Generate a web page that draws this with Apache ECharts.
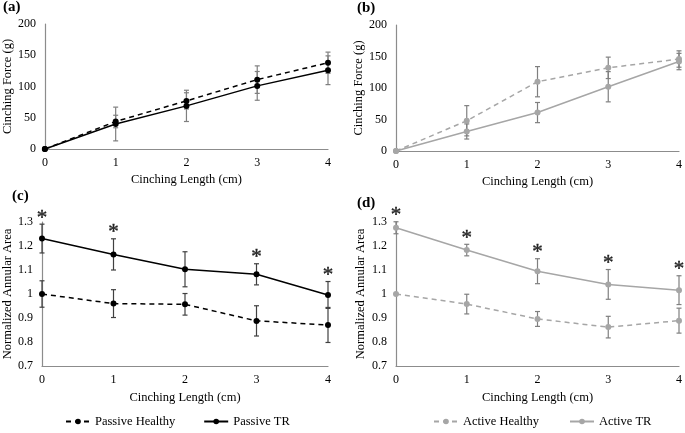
<!DOCTYPE html>
<html>
<head>
<meta charset="utf-8">
<script src="https://cdn.jsdelivr.net/npm/echarts@6/dist/echarts.min.js"></script>
<style>html,body{margin:0;padding:0;background:#fff}#c{width:685px;height:433px}</style>
</head>
<body>
<div id="c"></div>
<script>
const xValues = [0, 1, 2, 3, 4];
const forceTicks = [0, 50, 100, 150, 200];
const areaTicks = [0.7, 0.8, 0.9, 1, 1.1, 1.2, 1.3];

const passiveForceHealthy = [0, 44, 77, 111, 138];
const passiveForceHealthyErr = [0, 10, 13, 22, 17];
const passiveForceTR = [0, 40, 69, 101, 126];
const passiveForceTRErr = [0, 27, 25, 23, 23];

const activeForceHealthy = [0, 48, 110, 132, 146];
const activeForceHealthyErr = [0, 24, 24, 17, 13];
const activeForceTR = [0, 31, 61, 102, 142];
const activeForceTRErr = [0, 12, 16, 24, 13];

const passiveAreaHealthy = [1.0, 0.96, 0.957, 0.888, 0.871];
const passiveAreaHealthyErr = [0.055, 0.058, 0.045, 0.063, 0.073];
const passiveAreaTR = [1.231, 1.165, 1.103, 1.082, 0.996];
const passiveAreaTRErr = [0.06, 0.065, 0.073, 0.044, 0.056];

const activeAreaHealthy = [1.0, 0.958, 0.896, 0.862, 0.889];
const activeAreaHealthyErr = [0, 0.041, 0.031, 0.045, 0.052];
const activeAreaTR = [1.276, 1.183, 1.095, 1.04, 1.016];
const activeAreaTRErr = [0.025, 0.024, 0.052, 0.062, 0.06];

const passiveSignificant = [1, 1, 0, 1, 1];
const activeSignificant = [1, 1, 1, 1, 1];

const FONT = 'Liberation Serif';
const BLACK = '#000000';
const LIGHT = '#a6a6a6';
const AXIS = '#8c8c8c';

const chart = echarts.init(document.getElementById('c'));

function pairs(ys) { return xValues.map((x, i) => [x, ys[i]]); }

function lineSeries(name, idx, ys, color, dashed) {
  return {
    name: name, type: 'line', xAxisIndex: idx, yAxisIndex: idx,
    data: pairs(ys), symbol: 'circle', symbolSize: 6, z: 5,
    itemStyle: { color: color },
    lineStyle: { color: color, width: 1.5, type: dashed ? [5, 4] : 'solid' },
    emphasis: { disabled: true }, animation: false
  };
}

function errSeries(idx, ys, errs, color) {
  return {
    type: 'custom', xAxisIndex: idx, yAxisIndex: idx, silent: true, z: 3, animation: false,
    clip: false,
    data: xValues.map((x, i) => [x, ys[i] - errs[i], ys[i] + errs[i]]),
    renderItem: function (params, api) {
      const x = api.value(0);
      const lo = api.coord([x, api.value(1)]);
      const hi = api.coord([x, api.value(2)]);
      if (Math.abs(lo[1] - hi[1]) < 0.5) return null;
      const w = 2.5;
      const st = { stroke: color, lineWidth: 1.2 };
      return { type: 'group', children: [
        { type: 'line', shape: { x1: lo[0], y1: lo[1], x2: hi[0], y2: hi[1] }, style: st },
        { type: 'line', shape: { x1: lo[0] - w, y1: lo[1], x2: lo[0] + w, y2: lo[1] }, style: st },
        { type: 'line', shape: { x1: hi[0] - w, y1: hi[1], x2: hi[0] + w, y2: hi[1] }, style: st }
      ] };
    }
  };
}

function starSeries(idx, ys, errs, sig) {
  const d = [];
  xValues.forEach((x, i) => { if (sig[i]) d.push([x, ys[i] + errs[i]]); });
  return {
    type: 'custom', xAxisIndex: idx, yAxisIndex: idx, silent: true, z: 6, animation: false,
    clip: false, data: d,
    renderItem: function (params, api) {
      const p = api.coord([api.value(0), api.value(1)]);
      return { type: 'text', style: { text: '*', x: p[0], y: p[1] - 6, align: 'center', verticalAlign: 'middle',
        fontSize: 21, fontFamily: FONT, fill: '#222', stroke: '#222', lineWidth: 0.4 } };
    }
  };
}

function xAxis(idx, gap) {
  return {
    type: 'value', gridIndex: idx, min: 0, max: 4, interval: 1,
    name: 'Cinching Length (cm)', nameLocation: 'middle', nameGap: gap,
    nameTextStyle: { fontFamily: FONT, fontSize: 12.5, color: '#000' },
    axisLine: { show: true, lineStyle: { color: AXIS, width: 1.2 } },
    axisTick: { show: false }, splitLine: { show: false },
    axisLabel: { fontFamily: FONT, fontSize: 12, color: '#000', margin: 8 }
  };
}

function yAxis(idx, name, min, max, interval, gap) {
  return {
    type: 'value', gridIndex: idx, min: min, max: max, interval: interval,
    name: name, nameLocation: 'middle', nameGap: gap, nameRotate: 90,
    nameTextStyle: { fontFamily: FONT, fontSize: 12.5, color: '#000' },
    axisLine: { show: true, lineStyle: { color: AXIS, width: 1.2 } },
    axisTick: { show: false }, splitLine: { show: false },
    axisLabel: { fontFamily: FONT, fontSize: 12, color: '#000', margin: 9,
      formatter: function (v) { return String(+(+v).toFixed(1)); } }
  };
}

const panelLabel = (txt, x, y) => ({ type: 'text', left: x, top: y,
  style: { text: txt, font: 'bold 15px "Liberation Serif"', fill: '#000' } });

chart.setOption({
  animation: false,
  graphic: [panelLabel('(a)', 3, 0), panelLabel('(b)', 357, 1), panelLabel('(c)', 12, 189), panelLabel('(d)', 357, 196)],
  grid: [
    { left: 41, top: 24, width: 287, height: 125 },
    { left: 396, top: 25, width: 287, height: 126 },
    { left: 41, top: 222, width: 287, height: 144 },
    { left: 396, top: 222, width: 287, height: 144 }
  ],
  xAxis: [xAxis(0, 24), xAxis(1, 24), xAxis(2, 25), xAxis(3, 25)],
  yAxis: [
    yAxis(0, 'Cinching Force (g)', forceTicks[0], forceTicks[forceTicks.length - 1], 50, 28),
    yAxis(1, 'Cinching Force (g)', forceTicks[0], forceTicks[forceTicks.length - 1], 50, 29),
    yAxis(2, 'Normalized Annular Area', areaTicks[0], areaTicks[areaTicks.length - 1], 0.1, 28),
    yAxis(3, 'Normalized Annular Area', areaTicks[0], areaTicks[areaTicks.length - 1], 0.1, 29)
  ],
  legend: [
    { data: ['Passive Healthy', 'Passive TR'], left: 60, top: 410, itemWidth: 24, itemHeight: 7, itemGap: 28,
      textStyle: { fontFamily: FONT, fontSize: 12.5, color: '#000' } },
    { data: ['Active Healthy', 'Active TR'], left: 428, top: 410, itemWidth: 24, itemHeight: 7, itemGap: 30,
      textStyle: { fontFamily: FONT, fontSize: 12.5, color: '#000' } }
  ],
  series: [
    errSeries(0, passiveForceHealthy, passiveForceHealthyErr, '#7f7f7f'),
    errSeries(0, passiveForceTR, passiveForceTRErr, '#7f7f7f'),
    lineSeries('Passive Healthy', 0, passiveForceHealthy, BLACK, true),
    lineSeries('Passive TR', 0, passiveForceTR, BLACK, false),

    errSeries(1, activeForceHealthy, activeForceHealthyErr, '#7f7f7f'),
    errSeries(1, activeForceTR, activeForceTRErr, '#7f7f7f'),
    lineSeries('Active Healthy', 1, activeForceHealthy, LIGHT, true),
    lineSeries('Active TR', 1, activeForceTR, LIGHT, false),

    errSeries(2, passiveAreaHealthy, passiveAreaHealthyErr, '#404040'),
    errSeries(2, passiveAreaTR, passiveAreaTRErr, '#404040'),
    lineSeries('Passive Healthy', 2, passiveAreaHealthy, BLACK, true),
    lineSeries('Passive TR', 2, passiveAreaTR, BLACK, false),
    starSeries(2, passiveAreaTR, passiveAreaTRErr, passiveSignificant),

    errSeries(3, activeAreaHealthy, activeAreaHealthyErr, '#7f7f7f'),
    errSeries(3, activeAreaTR, activeAreaTRErr, '#7f7f7f'),
    lineSeries('Active Healthy', 3, activeAreaHealthy, LIGHT, true),
    lineSeries('Active TR', 3, activeAreaTR, LIGHT, false),
    starSeries(3, activeAreaTR, activeAreaTRErr, activeSignificant)
  ]
});
</script>
</body>
</html>
